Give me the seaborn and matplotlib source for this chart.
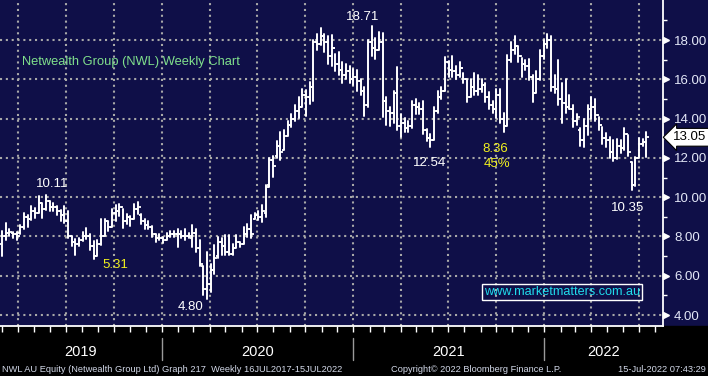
"""NWL weekly bar chart - Bloomberg style"""

import numpy as np
import pandas as pd
import matplotlib
matplotlib.use('Agg')
import matplotlib.pyplot as plt
import matplotlib.dates as mdates
import matplotlib.transforms as mtransforms
from matplotlib.patches import Rectangle
import seaborn as sns

# weekly OHLC, 1 Mar 2019 -> 15 Jul 2022
open_ = [7.6, 8.0, 8.2, 8.2, 8.1, 8.2, 8.5, 9.0, 8.9, 9.3, 9.2, 9.7, 9.4, 9.8, 9.5, 9.5, 9.3, 9.1, 8.8, 8.0, 7.7, 7.6, 7.8, 8.0, 8.0, 7.5,
         7.0, 7.6, 8.0, 8.8, 8.5, 9.2, 9.3, 9.5, 8.8, 9.0, 8.9, 9.4, 9.1, 8.8, 8.6, 8.5, 8.1, 7.9, 7.9, 7.8, 8.0, 8.1, 8.1, 8.1, 8.0, 8.0,
         7.9, 8.2, 7.4, 6.5, 5.3, 5.6, 6.3, 7.0, 7.7, 7.5, 7.2, 7.1, 7.4, 7.7, 7.6, 8.1, 8.4, 8.9, 9.1, 9.0, 9.2, 10.6, 11.9, 12.1, 12.6, 12.4,
         13.1, 13.7, 14.0, 14.4, 14.6, 15.2, 15.1, 15.6, 17.9, 17.8, 18.2, 17.9, 17.2, 17.6, 16.8, 16.5, 16.2, 16.4, 16.0, 16.1, 15.9, 15.4, 14.7, 17.9, 17.6, 17.5,
         17.9, 14.9, 14.4, 14.3, 15.3, 13.6, 13.8, 13.5, 13.6, 14.7, 14.6, 14.5, 13.4, 13.0, 12.9, 14.4, 15.1, 15.4, 16.9, 16.5, 16.4, 16.2, 16.6, 16.0, 15.1, 15.6,
         15.4, 15.5, 15.7, 15.1, 14.7, 14.5, 15.2, 14.0, 13.6, 17.0, 17.5, 17.7, 17.2, 16.8, 16.7, 16.1, 15.3, 16.0, 17.2, 17.8, 18.0, 15.6, 15.5, 15.0, 14.8, 14.6,
         14.5, 13.9, 13.4, 12.9, 13.6, 14.5, 14.6, 14.2, 13.7, 13.0, 12.9, 12.3, 12.0, 12.6, 12.5, 13.2, 11.8, 10.6, 12.0, 12.7, 12.8]
high = [8.3, 8.7, 8.4, 8.25, 8.25, 8.6, 9.2, 9.1, 9.55, 9.45, 10.05, 9.7, 10.11, 9.8, 9.7, 9.55, 9.35, 9.55, 9.3, 8.0, 7.85, 7.9, 8.25, 8.45, 8.1, 7.75,
        7.8, 8.9, 8.9, 8.8, 9.4, 9.6, 9.65, 9.4, 9.15, 9.05, 9.65, 9.75, 9.15, 8.9, 8.8, 8.55, 8.15, 8.15, 7.95, 8.2, 8.3, 8.3, 8.4, 8.3, 8.4, 8.2,
        8.6, 8.4, 7.8, 6.5, 7.2, 6.6, 7.55, 7.95, 7.9, 8.05, 8.05, 7.6, 8.05, 7.7, 8.5, 8.65, 9.1, 9.2, 9.3, 9.6, 10.6, 12.0, 12.1, 12.85, 13.3, 13.4,
        13.9, 14.25, 14.7, 15.1, 15.5, 15.45, 15.85, 18.0, 18.3, 18.6, 18.3, 18.2, 18.25, 17.3, 17.4, 16.9, 16.8, 16.7, 16.55, 16.5, 16.0, 15.6, 18.0, 18.71, 18.1, 18.4,
        18.35, 15.1, 14.6, 15.4, 16.65, 14.25, 14.05, 13.9, 14.9, 15.0, 14.8, 14.9, 13.45, 13.2, 14.6, 15.4, 15.6, 17.15, 16.95, 17.2, 16.7, 16.9, 16.3, 16.0, 16.0, 16.3,
        16.2, 16.0, 15.8, 15.35, 14.9, 15.5, 15.5, 14.3, 17.25, 17.9, 18.2, 17.7, 17.1, 17.0, 17.05, 16.2, 16.4, 17.5, 18.0, 18.3, 18.2, 16.2, 17.0, 15.8, 16.0, 15.2,
        14.7, 14.25, 13.5, 14.0, 14.7, 15.1, 15.0, 14.1, 13.55, 13.25, 13.05, 12.9, 12.95, 12.9, 13.5, 13.15, 11.8, 12.05, 13.0, 12.95, 13.3]
low = [7.0, 7.8, 8.0, 7.9, 7.8, 8.15, 8.4, 8.5, 8.85, 8.95, 9.2, 8.95, 9.35, 9.3, 9.3, 9.1, 8.8, 8.7, 7.9, 7.5, 7.05, 7.5, 7.75, 7.85, 7.3, 6.85,
       7.0, 7.55, 8.0, 8.3, 8.5, 8.8, 9.05, 8.45, 8.65, 8.55, 8.9, 9.15, 8.65, 8.4, 8.4, 7.95, 7.7, 7.8, 7.65, 7.8, 7.95, 7.95, 7.45, 7.9, 7.8, 7.9,
       7.45, 7.2, 6.5, 5.0, 4.8, 5.15, 6.1, 6.9, 7.05, 7.05, 7.05, 7.05, 7.4, 7.45, 7.6, 7.95, 7.9, 8.9, 8.85, 8.75, 9.0, 10.5, 11.05, 12.0, 11.9, 12.4,
       13.1, 13.55, 13.9, 14.05, 14.6, 14.15, 14.75, 14.9, 17.5, 17.75, 17.4, 16.8, 16.7, 16.45, 16.2, 15.8, 16.0, 15.8, 15.7, 15.4, 15.2, 14.15, 14.6, 17.2, 17.05, 17.5,
       14.1, 13.7, 13.6, 13.8, 13.4, 13.05, 13.3, 13.3, 13.5, 14.25, 14.25, 13.2, 12.87, 12.54, 12.9, 14.3, 15.0, 15.4, 16.1, 16.1, 16.0, 16.1, 15.8, 14.85, 15.1, 15.2,
       15.2, 15.35, 14.85, 14.5, 14.3, 14.05, 13.8, 13.3, 13.6, 16.9, 17.3, 16.9, 16.1, 16.5, 15.95, 14.85, 15.3, 15.95, 17.05, 17.6, 15.4, 15.3, 14.7, 13.8, 14.3, 14.5,
       13.55, 13.65, 12.6, 12.55, 13.15, 14.0, 13.9, 13.4, 12.7, 12.55, 12.0, 11.85, 11.95, 12.25, 12.4, 12.1, 10.35, 10.55, 12.0, 12.6, 12.05]
close = [8.0, 8.2, 8.25, 8.1, 8.0, 8.5, 9.0, 8.9, 9.3, 9.2, 9.7, 9.4, 9.8, 9.5, 9.5, 9.3, 9.1, 8.8, 8.0, 7.7, 7.6, 7.8, 8.0, 8.0, 7.5, 7.0,
         7.6, 8.0, 8.8, 8.5, 9.2, 9.3, 9.5, 8.8, 9.0, 8.9, 9.4, 9.5, 8.8, 8.6, 8.5, 8.1, 7.9, 7.9, 7.8, 8.0, 8.1, 8.1, 8.1, 8.0, 8.0, 8.0,
         8.2, 7.4, 6.6, 5.3, 5.6, 6.3, 6.9, 7.7, 7.5, 7.2, 7.1, 7.4, 7.7, 7.6, 8.1, 8.4, 8.1, 9.1, 9.0, 9.3, 10.5, 11.9, 11.6, 12.6, 12.3, 13.1,
         13.7, 14.0, 14.4, 14.6, 15.2, 15.1, 15.6, 17.9, 17.8, 18.2, 17.9, 17.2, 17.6, 16.8, 16.5, 16.2, 16.4, 16.0, 16.1, 15.9, 15.4, 14.7, 17.9, 17.6, 17.5, 17.9,
         14.9, 14.4, 14.3, 15.3, 13.6, 13.8, 13.5, 13.6, 14.7, 14.6, 14.5, 13.4, 13.0, 12.9, 14.4, 15.1, 15.4, 16.9, 16.5, 16.4, 16.2, 16.6, 16.0, 15.1, 15.6, 15.4,
         15.5, 15.7, 15.1, 14.7, 14.5, 15.2, 14.0, 13.6, 17.0, 17.5, 17.7, 17.2, 16.8, 16.7, 16.1, 15.3, 16.0, 17.2, 17.8, 18.0, 15.6, 15.5, 15.0, 14.8, 14.6, 14.5,
         13.9, 14.1, 12.9, 13.6, 14.5, 14.6, 14.2, 13.7, 13.0, 12.9, 12.3, 12.0, 12.6, 12.5, 13.2, 12.3, 10.6, 12.0, 12.7, 12.8, 13.05]

price_ticks = [4, 6, 8, 10, 12, 14, 16, 18]
years = [2019, 2020, 2021, 2022]

# labels on the chart: (text, date, price, colour)
notes = [
    ('18.71', '2021-01-18', 19.17, 'white'),
    ('10.11', '2019-06-05', 10.67, 'white'),
    ('5.31', '2019-10-04', 6.54, '#f2f21e'),
    ('4.80', '2020-02-25', 4.41, 'white'),
    ('12.54', '2021-05-27', 11.74, 'white'),
    ('8.36', '2021-09-29', 12.45, '#f2f21e'),
    ('45%', '2021-10-03', 11.69, '#f2f21e'),
    ('10.35', '2022-06-10', 9.45, 'white'),
]

n = len(close)
week_end = pd.date_range('2019-03-01', periods=n, freq='7D')

sns.set_theme(style='dark')
plt.rcParams['font.family'] = ['Liberation Sans', 'DejaVu Sans']

NAVY = '#0f0f48'
W, H = 708, 376
fig = plt.figure(figsize=(W / 100, H / 100), dpi=100, facecolor=NAVY)
fig.add_artist(Rectangle((0, 0), 1, 50 / H, transform=fig.transFigure,
                         color='black', zorder=-1))
ax = fig.add_axes([0, 50 / H, 663 / W, 326 / H])
ax.set_facecolor(NAVY)

# high-low bars via seaborn, one unit per week
hl = pd.DataFrame({
    'bar': np.tile(np.arange(n), 2),
    'date': np.tile(week_end, 2),
    'price': np.r_[high, low],
})
sns.lineplot(data=hl, x='date', y='price', units='bar', estimator=None,
             color='white', lw=1.4, ax=ax, legend=False)
# open / close ticks
ax.plot(week_end, open_, ls='none', marker=0, ms=1.8, mew=1.3, color='white')
ax.plot(week_end, close, ls='none', marker=1, ms=1.8, mew=1.3, color='white')

ax.set_xlim(pd.Timestamp('2019-02-25'), pd.Timestamp('2022-08-16'))
ax.set_ylim(3.44, 20.04)
ax.set_xlabel('')
ax.set_ylabel('')

# x axis: monthly ticks, quarterly grid
ax.xaxis.set_major_locator(mdates.MonthLocator(bymonth=[1, 4, 7, 10]))
ax.xaxis.set_minor_locator(mdates.MonthLocator())
ax.tick_params(axis='x', which='both', length=4, width=1, color='white',
               direction='out', labelbottom=False, bottom=True)

# y axis on the right
ax.yaxis.tick_right()
ax.set_yticks(price_ticks)
ax.set_yticklabels([f'{v:.2f}' for v in price_ticks])
ax.set_yticks(np.arange(5, 20, 2), minor=True)
ax.tick_params(axis='y', which='major', length=0, pad=8, labelsize=9.5,
               labelcolor='#e4e8f8')
ax.tick_params(axis='y', which='minor', length=3, width=1, color='white',
               direction='out', right=True)
tri = mtransforms.blended_transform_factory(ax.transAxes, ax.transData)
tri = tri + mtransforms.ScaledTranslation(3 / 100, 0, fig.dpi_scale_trans)
ax.plot(np.ones(len(price_ticks)), price_ticks, ls='none', marker='>', ms=5,
        color='white', transform=tri, clip_on=False)

ax.grid(True, which='major', color='#a8a8a8', ls=(0, (1, 1.8)), lw=1.5)
ax.grid(False, which='minor')
for side in ['top', 'left']:
    ax.spines[side].set_visible(False)
for side in ['right', 'bottom']:
    ax.spines[side].set_visible(True)
    ax.spines[side].set_color('white')
    ax.spines[side].set_linewidth(1.3)

# last price tag
tag = mtransforms.blended_transform_factory(ax.transAxes, ax.transData)
ax.text(1 + 10 / 663, close[-1], f'{close[-1]:.2f}', transform=tag,
        ha='left', va='center', fontsize=9.5, color='black', clip_on=False,
        bbox=dict(boxstyle='larrow,pad=0.22', fc='white', ec='black', lw=0.8))

# annotations
for txt, d, p, col in notes:
    ax.text(pd.Timestamp(d), p, txt, color=col, fontsize=9.5,
            ha='center', va='center')
ax.text(22 / 663, 0.81, 'Netwealth Group (NWL) Weekly Chart', transform=ax.transAxes,
        color='#80e08c', fontsize=9.3, ha='left', va='center')
ax.text(0.848, 0.104, 'www.marketmatters.com.au', transform=ax.transAxes,
        color='#20dcec', fontsize=9.1, ha='center', va='center',
        bbox=dict(boxstyle='square,pad=0.15', fc='none', ec='white', lw=1))

# year labels and separators in the black strip
strip = mtransforms.blended_transform_factory(ax.transData, fig.transFigure)
x0, x1 = ax.get_xlim()
for yr in years:
    a = max(mdates.date2num(pd.Timestamp(f'{yr}-01-01')), x0)
    b = min(mdates.date2num(pd.Timestamp(f'{yr + 1}-01-01')), x1)
    ax.text((a + b) / 2, 24 / H, str(yr), transform=strip, color='white',
            fontsize=10.5, ha='center', va='center', clip_on=False)
    if yr > years[0]:
        xb = mdates.date2num(pd.Timestamp(f'{yr}-01-01'))
        ax.plot([xb, xb], [38 / H, 16 / H], transform=strip, color='#9a9a9a',
                lw=1, clip_on=False)

# footer
foot = dict(color='#d2d8e8', fontsize=6.7, va='center')
fig.text(2 / W, 7 / H, 'NWL AU Equity (Netwealth Group Ltd) Graph 217  Weekly 16JUL2017-15JUL2022',
         ha='left', **foot)
fig.text(391 / W, 7 / H, 'Copyright\u00a9 2022 Bloomberg Finance L.P.', ha='left', **foot)
fig.text(706 / W, 7 / H, '15-Jul-2022 07:43:29', ha='right', **foot)

fig.savefig('out.png', dpi=100, facecolor=NAVY)
